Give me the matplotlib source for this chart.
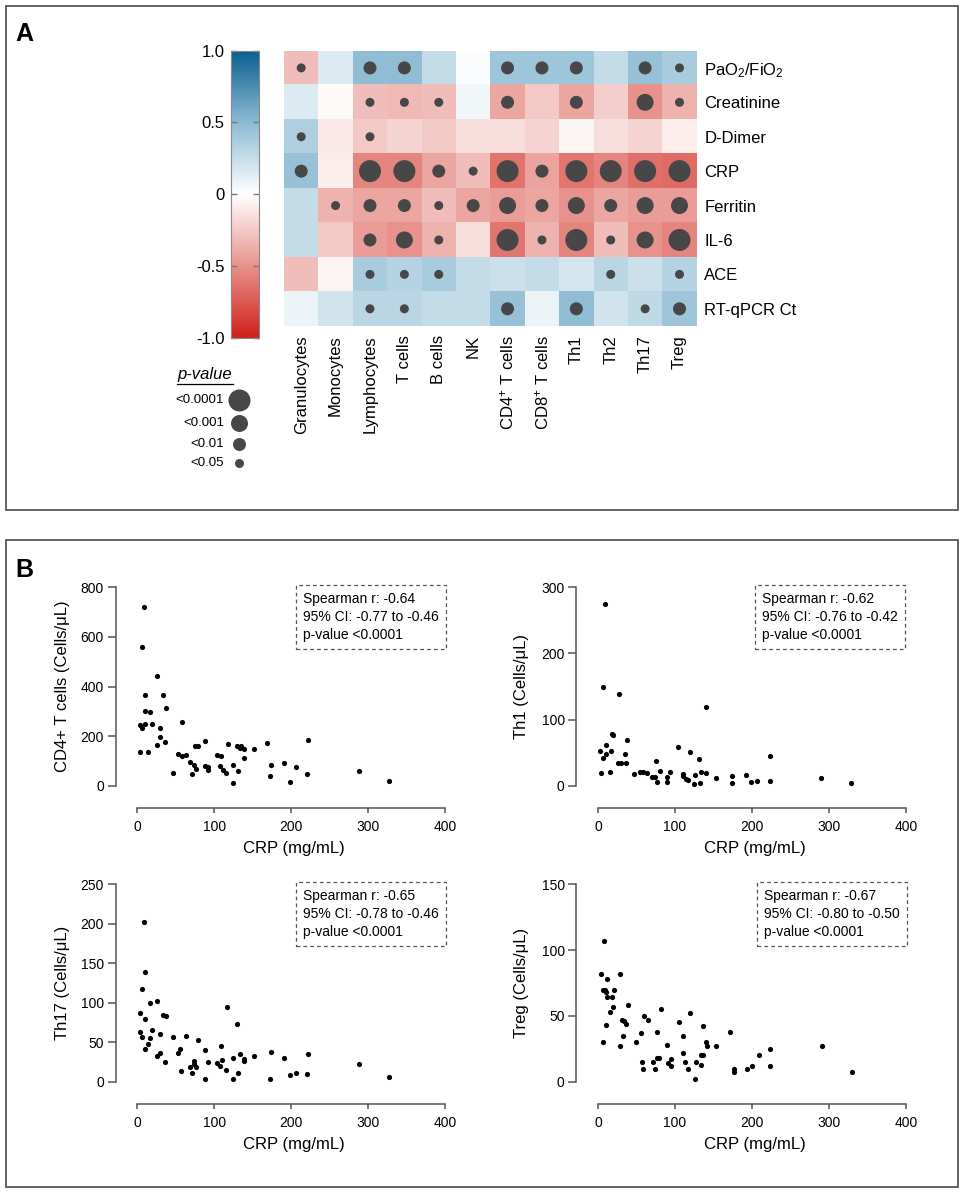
import numpy as np
import matplotlib.pyplot as plt
from matplotlib.colors import LinearSegmentedColormap, Normalize
from matplotlib.cm import ScalarMappable
from matplotlib.patches import Rectangle

plt.rcParams['font.family'] = ['Liberation Sans', 'DejaVu Sans']
plt.rcParams['mathtext.fontset'] = 'custom'
plt.rcParams['mathtext.rm'] = 'Liberation Sans'
plt.rcParams['mathtext.it'] = 'Liberation Sans:italic'

# ---- panel A data ----
rows = [r'PaO$_\mathregular{2}$/FiO$_\mathregular{2}$', 'Creatinine', 'D-Dimer', 'CRP',
        'Ferritin', 'IL-6', 'ACE', 'RT-qPCR Ct']
cols = ['Granulocytes', 'Monocytes', 'Lymphocytes', 'T cells', 'B cells', 'NK',
        r'CD4$^\mathregular{+}$ T cells', r'CD8$^\mathregular{+}$ T cells',
        'Th1', 'Th2', 'Th17', 'Treg']

corr = [
    [-0.30, 0.15, 0.48, 0.48, 0.25, 0.02, 0.42, 0.42, 0.42, 0.25, 0.45, 0.38],
    [0.15, -0.02, -0.30, -0.32, -0.30, 0.06, -0.40, -0.25, -0.40, -0.22, -0.50, -0.35],
    [0.35, -0.10, -0.25, -0.20, -0.25, -0.15, -0.15, -0.20, -0.05, -0.15, -0.20, -0.08],
    [0.45, -0.08, -0.55, -0.55, -0.40, -0.30, -0.64, -0.42, -0.62, -0.55, -0.65, -0.67],
    [0.25, -0.35, -0.40, -0.40, -0.30, -0.40, -0.45, -0.40, -0.50, -0.40, -0.45, -0.45],
    [0.25, -0.25, -0.45, -0.50, -0.35, -0.15, -0.62, -0.35, -0.55, -0.30, -0.50, -0.55],
    [-0.30, -0.05, 0.38, 0.32, 0.38, 0.25, 0.22, 0.25, 0.18, 0.30, 0.22, 0.32],
    [0.08, 0.20, 0.30, 0.30, 0.25, 0.25, 0.45, 0.08, 0.48, 0.20, 0.28, 0.42],
]
# 0 = ns, 1 = <0.05, 2 = <0.01, 3 = <0.001, 4 = <0.0001
sig = [
    [1, 0, 2, 2, 0, 0, 2, 2, 2, 0, 2, 1],
    [0, 0, 1, 1, 1, 0, 2, 0, 2, 0, 3, 1],
    [1, 0, 1, 0, 0, 0, 0, 0, 0, 0, 0, 0],
    [2, 0, 4, 4, 2, 1, 4, 2, 4, 4, 4, 4],
    [0, 1, 2, 2, 1, 2, 3, 2, 3, 2, 3, 3],
    [0, 0, 2, 3, 1, 0, 4, 1, 4, 1, 3, 4],
    [0, 0, 1, 1, 1, 0, 0, 0, 0, 1, 0, 1],
    [0, 0, 1, 1, 0, 0, 2, 0, 2, 0, 1, 2],
]
p_labels = ['<0.0001', '<0.001', '<0.01', '<0.05']
p_levels = [4, 3, 2, 1]

# ---- panel B data ----
crp_cd4 = [9, 6, 26, 10, 34, 10, 17, 37, 3, 6, 10, 19, 30, 58, 30, 25, 36, 4, 14, 46,
           53, 58, 63, 69, 74, 76, 71, 75, 79, 88, 88, 92, 92, 103, 109, 108, 111, 115, 118, 124,
           124, 131, 130, 135, 133, 139, 138, 151, 168, 173, 172, 191, 198, 206, 222, 221, 288, 327]
cd4 = [719, 558, 442, 364, 364, 302, 296, 312, 245, 231, 247, 247, 231, 256, 196, 164, 177, 136, 136, 51,
       129, 121, 125, 97, 82, 67, 48, 161, 161, 179, 79, 77, 62, 125, 118, 79, 65, 50, 169, 82,
       11, 58, 159, 161, 151, 147, 113, 149, 173, 83, 38, 93, 14, 77, 184, 48, 59, 20]

crp_th1 = [9, 7, 27, 140, 18, 20, 38, 10, 3, 17, 11, 6, 35, 104, 119, 131, 223, 75, 26, 30,
           37, 4, 15, 47, 54, 58, 64, 70, 74, 80, 77, 89, 89, 93, 110, 110, 114, 117, 126, 125,
           133, 134, 140, 153, 174, 174, 192, 199, 207, 223, 289, 329]
th1 = [275, 150, 138, 119, 78, 76, 69, 62, 52, 53, 48, 42, 48, 59, 51, 40, 45, 38, 34, 34,
       34, 19, 21, 18, 20, 20, 19, 13, 13, 22, 5, 13, 5, 20, 18, 14, 10, 8, 16, 3,
       4, 21, 19, 12, 14, 4, 16, 5, 7, 7, 11, 4]

crp_th17 = [9, 10, 6, 17, 26, 4, 10, 33, 37, 4, 6, 19, 16, 14, 10, 30, 25, 30, 36, 47,
            63, 53, 56, 79, 88, 57, 69, 74, 74, 76, 71, 88, 92, 103, 108, 109, 110, 115, 117, 124,
            124, 130, 131, 133, 138, 139, 151, 173, 172, 191, 198, 206, 222, 221, 288, 327]
th17 = [202, 139, 117, 100, 102, 87, 80, 85, 83, 63, 57, 65, 55, 48, 41, 60, 33, 36, 25, 57,
        58, 36, 41, 53, 40, 13, 18, 26, 22, 18, 11, 3, 25, 24, 20, 45, 28, 15, 94, 30,
        3, 73, 11, 35, 29, 26, 33, 38, 3, 30, 8, 11, 35, 10, 22, 6]

crp_treg = [8, 4, 12, 28, 7, 9, 11, 21, 12, 18, 19, 16, 39, 82, 60, 65, 31, 34, 37, 11,
            32, 56, 77, 105, 120, 137, 171, 111, 6, 28, 49, 90, 140, 141, 153, 291, 111, 134, 136, 209,
            224, 57, 59, 71, 74, 77, 79, 91, 95, 95, 113, 117, 127, 134, 126, 176, 176, 194, 200, 224, 330]
treg = [107, 82, 78, 82, 70, 70, 68, 70, 64, 64, 57, 53, 58, 55, 50, 47, 47, 46, 44, 43,
        35, 37, 38, 45, 52, 42, 38, 35, 30, 27, 30, 28, 30, 27, 27, 27, 22, 20, 20, 20,
        25, 15, 10, 15, 10, 18, 18, 14, 17, 12, 15, 10, 15, 13, 2, 10, 7, 10, 12, 12, 7]

stats = [
    ('-0.64', '-0.77 to -0.46'),
    ('-0.62', '-0.76 to -0.42'),
    ('-0.65', '-0.78 to -0.46'),
    ('-0.67', '-0.80 to -0.50'),
]

W, H = 966, 1194


def rect(l, t, r, b):
    return [l / W, 1 - b / H, (r - l) / W, (b - t) / H]


fig = plt.figure(figsize=(W / 100, H / 100), dpi=100)

# overlay in pixel coordinates for frames / panel letters / legend
ov = fig.add_axes([0, 0, 1, 1])
ov.set_xlim(0, W)
ov.set_ylim(H, 0)
ov.axis('off')
for (x0, y0, x1, y1) in [(6, 6, 958, 510), (6, 540, 958, 1187)]:
    ov.add_patch(Rectangle((x0, y0), x1 - x0, y1 - y0, fill=False, ec='#555555', lw=1.3))
ov.text(15, 22, 'A', fontsize=18, fontweight='bold', va='top')
ov.text(15, 558, 'B', fontsize=18, fontweight='bold', va='top')

cmap = LinearSegmentedColormap.from_list(
    'rb', [(0.0, '#d0201a'), (0.25, '#e8928d'), (0.5, '#ffffff'),
           (0.75, '#8dbbd3'), (1.0, '#0a5f8f')])

size_px = [0, 9, 13, 17, 22]

# ---- heatmap ----
ax = fig.add_axes(rect(284, 50.7, 696.7, 326))
c = np.array(corr)
s = np.array(sig)
ax.imshow(c, cmap=cmap, vmin=-1, vmax=1, aspect='auto')
yy, xx = np.nonzero(s)
ax.scatter(xx, yy, s=(np.array(size_px)[s[yy, xx]] * 0.72) ** 2,
           color='#474747', linewidths=0, zorder=3)
ax.set_xlim(-0.5, 11.5)
ax.set_ylim(7.5, -0.5)
ax.set_xticks(range(len(cols)))
ax.set_xticklabels(cols, rotation=90, fontsize=12)
ax.set_yticks(range(len(rows)))
ax.set_yticklabels(rows, fontsize=12)
ax.yaxis.tick_right()
ax.tick_params(axis='x', length=0, pad=6.5)
ax.tick_params(axis='y', length=0, pad=5.5)
for sp in ax.spines.values():
    sp.set_visible(False)

# ---- colorbar ----
cax = fig.add_axes(rect(230.7, 50.7, 259.3, 337.7))
cb = fig.colorbar(ScalarMappable(norm=Normalize(-1, 1), cmap=cmap), cax=cax)
cb.set_ticks([-1, -0.5, 0, 0.5, 1])
cb.set_ticklabels(['-1.0', '-0.5', '0', '0.5', '1.0'])
cax.tick_params(axis='y', left=True, right=True, labelleft=True, labelright=False,
                direction='in', length=4, width=1, color='#777777', labelsize=12, pad=4.5)
cb.outline.set_edgecolor('#888888')
cb.outline.set_linewidth(0.8)

# ---- p-value legend ----
ov.text(205, 375, 'p-value', fontsize=12, style='italic', ha='center', va='center')
ov.plot([177, 233], [384, 384], color='black', lw=0.9)
leg_y = [400, 423, 444, 463]
for lab, lev, ly in zip(p_labels, p_levels, leg_y):
    ov.scatter([239], [ly], s=(size_px[lev] * 0.72) ** 2, color='#474747', linewidths=0)
    ov.text(224, ly, lab, fontsize=9.5, ha='right', va='center')

# ---- scatter panels ----
xs = 0.77
panels = [
    (crp_cd4, cd4, 137.3, 785.7, 800, 200, 198.4 / 800, 'CD4+ T cells (Cells/μL)', 70),
    (crp_th1, th1, 598.0, 785.7, 300, 100, 198.4 / 300, 'Th1 (Cells/μL)', 529),
    (crp_th17, th17, 137.3, 1081.7, 250, 50, 197.4 / 250, 'Th17 (Cells/μL)', 70),
    (crp_treg, treg, 598.0, 1081.7, 150, 50, 197.4 / 150, 'Treg (Cells/μL)', 529),
]
txt_pos = [(303, 592), (762, 592), (303, 889), (764, 889)]

for (x, y, x0, y0, ymax, ystep, ys, ylab, labx), st, tp in zip(panels, stats, txt_pos):
    a = fig.add_axes(rect(x0 - 28 * xs, y0 - ymax * 1.02 * ys, x0 + 403 * xs, y0 + 22))
    a.scatter(x, y, s=14, color='black', linewidths=0, zorder=3)
    a.set_xlim(-28, 403)
    a.set_ylim(-22 / ys, ymax * 1.02)
    a.spines['top'].set_visible(False)
    a.spines['right'].set_visible(False)
    a.spines['left'].set_bounds(0, ymax)
    a.spines['bottom'].set_bounds(0, 400)
    for sp in ('left', 'bottom'):
        a.spines[sp].set_color('#555555')
        a.spines[sp].set_linewidth(1.1)
    a.set_xticks([0, 100, 200, 300, 400])
    a.set_yticks(np.arange(0, ymax + 1, ystep))
    a.tick_params(axis='y', length=6, width=1.1, color='#555555', labelsize=10, pad=2.5)
    a.tick_params(axis='x', length=3.6, width=1.1, color='#555555', labelsize=10, pad=5)
    a.patch.set_alpha(0)
    a.set_xlabel('CRP (mg/mL)', fontsize=12)
    a.xaxis.set_label_coords(x0 + 157, y0 + 55, transform=ov.transData)
    a.set_ylabel(ylab, fontsize=12)
    a.yaxis.set_label_coords(labx, y0 - ymax * ys / 2, transform=ov.transData)
    ov.text(tp[0], tp[1],
            'Spearman r: %s\n95%% CI: %s\np-value <0.0001' % st,
            fontsize=10, ha='left', va='top', linespacing=1.35,
            bbox=dict(boxstyle='square,pad=0.5', fc='white', ec='#555555',
                      lw=0.9, ls=(0, (3, 2.5))))

fig.savefig('out.png', dpi=100)
